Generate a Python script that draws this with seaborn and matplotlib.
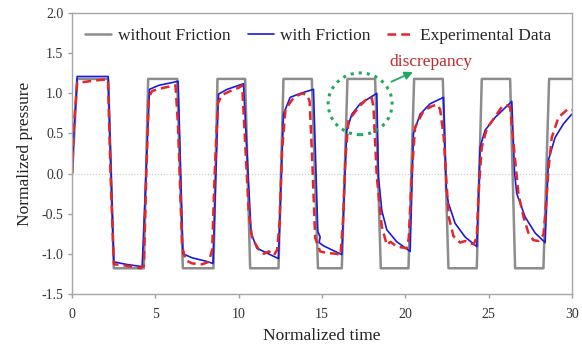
import seaborn as sns
import pandas as pd
import matplotlib.pyplot as plt
from matplotlib.patches import Ellipse

# Data
t_nofric = [0, 0.3, 2.16, 2.5, 4.3, 4.56, 6.3, 6.64, 8.48, 8.72, 10.38, 10.68, 12.38, 12.68,
            14.38, 14.75, 16.18, 16.52, 18.18, 18.52, 20.18, 20.52, 22.24, 22.58, 24.28, 24.58,
            26.28, 26.58, 28.28, 28.62, 30]
p_nofric = [0, 1.18, 1.18, -1.18, -1.18, 1.18, 1.18, -1.18, -1.18, 1.18, 1.18, -1.18, -1.18, 1.18,
            1.18, -1.18, -1.18, 1.18, 1.18, -1.18, -1.18, 1.18, 1.18, -1.18, -1.18, 1.18,
            1.18, -1.18, -1.18, 1.18, 1.18]

t_fric = [0, 0.1, 0.25, 0.3, 2.16, 2.5, 3.2, 4.2, 4.64, 5.2, 6.36, 6.65, 7.2, 8.0, 8.45,
          8.78, 9.3, 10.28, 10.74, 11.08, 11.68, 12.38, 12.68, 13.08, 13.7, 14.48, 14.74, 14.88,
          14.82, 15.08, 16.18, 16.48, 16.78, 17.28, 18.28, 18.38, 18.58, 18.88, 19.48, 20.28,
          20.48, 20.88, 21.48, 22.28, 22.45, 22.58, 22.98, 23.58, 24.28, 24.48, 24.78, 25.38,
          26.38, 26.55, 26.68, 27.18, 27.78, 28.38, 28.58, 28.98, 29.48, 29.98]
p_fric = [0, 0.5, 1.0, 1.21, 1.21, -1.10, -1.13, -1.16, 1.05, 1.1, 1.15, -1.0, -1.05, -1.09, -1.12,
          0.99, 1.05, 1.12, -0.74, -0.93, -0.99, -1.06, 0.74, 0.95, 1.0, 1.05, -0.72, -0.79,
          -0.86, -0.9, -1.01, 0.54, 0.74, 0.87, 1.0, -0.04, -0.46, -0.70, -0.85, -0.97,
          0.5, 0.74, 0.87, 0.95, -0.2, -0.37, -0.62, -0.79, -0.91, 0.33, 0.54, 0.70,
          0.90, 0.0, -0.25, -0.54, -0.74, -0.86, 0.17, 0.45, 0.62, 0.74]

t_exp = [0, 0.1, 0.3, 1.0, 1.8, 2.15, 2.3, 2.5, 3.0, 3.6, 4.1, 4.3, 4.45, 4.6, 4.8, 5.5, 6.2,
         6.35, 6.6, 6.8, 7.2, 7.8, 8.2, 8.4, 8.55, 8.75, 9.0, 9.5, 10.0, 10.2, 10.35, 10.6,
         10.8, 11.2, 11.5, 11.8, 12.1, 12.3, 12.45, 12.6, 12.8, 13.3, 13.8, 14.1, 14.25, 14.4,
         14.58, 14.88, 15.28, 15.88, 16.1, 16.25, 16.4, 16.58, 17.2, 17.78, 17.98, 18.08, 18.28,
         18.58, 18.88, 19.1, 19.48, 20.08, 20.2, 20.38, 20.58, 21.08, 21.58, 21.9, 22.08, 22.3,
         22.48, 22.6, 22.88, 23.28, 23.58, 23.88, 24.1, 24.28, 24.38, 24.58, 24.88, 25.48,
         25.78, 26.08, 26.28, 26.58, 26.78, 27.08, 27.38, 27.68, 27.98, 28.28, 28.4, 28.58,
         28.78, 29.18, 29.78, 29.98]
p_exp = [0, 0.6, 1.13, 1.15, 1.17, 1.17, 0.0, -1.13, -1.14, -1.16, -1.18, -1.15, 0.0, 0.95, 1.03,
         1.07, 1.1, 0.6, -0.9, -1.08, -1.12, -1.13, -1.1, -0.95, 0.0, 0.88, 0.98, 1.03, 1.07,
         1.1, 0.5, -0.5, -0.8, -0.95, -1.0, -0.97, -1.02, -0.95, -0.6, 0.3, 0.8, 0.95, 1.0,
         0.98, 0.9, 0.2, -0.8, -0.97, -0.99, -1.0, -1.02, -0.6, 0.2, 0.66, 0.83, 0.95, 0.94,
         0.83, -0.04, -0.66, -0.89, -0.85, -0.91, -0.93, -0.8, 0.0, 0.58, 0.78, 0.84, 0.86,
         0.80, 0.45, -0.17, -0.54, -0.78, -0.86, -0.84, -0.87, -0.88, -0.79, -0.25, 0.33, 0.56,
         0.74, 0.83, 0.85, 0.83, 0.17, -0.25, -0.54, -0.74, -0.83, -0.84, -0.76, -0.5, 0.05,
         0.45, 0.70, 0.81, 0.79]

df_nofric = pd.DataFrame({'t': t_nofric, 'p': p_nofric})
df_fric = pd.DataFrame({'t': t_fric, 'p': p_fric})
df_exp = pd.DataFrame({'t': t_exp, 'p': p_exp})

sns.set_style('ticks')
plt.rcParams['font.family'] = ['Liberation Serif', 'DejaVu Serif']

grey = '#8c8c8c'
green = '#1fa860'

fig = plt.figure(figsize=(5.82, 3.45), dpi=100)
ax = fig.add_subplot(111)
fig.subplots_adjust(left=0.124, right=0.983, top=0.962, bottom=0.148)

ax.axhline(0, color='#c8c8c8', lw=0.8, ls=':', zorder=1)
sns.lineplot(data=df_nofric, x='t', y='p', sort=False, estimator=None, color=grey, lw=1.8,
             label='without Friction', ax=ax)
sns.lineplot(data=df_fric, x='t', y='p', sort=False, estimator=None, color='#1a1adb', lw=1.2,
             label='with Friction', ax=ax)
sns.lineplot(data=df_exp, x='t', y='p', sort=False, estimator=None, color='#e3262b', lw=1.8,
             label='Experimental Data', ax=ax)
ax.lines[-1].set_dashes([3.5, 2])

# discrepancy marker
ax.add_patch(Ellipse((17.28, 0.87), width=3.84, height=0.77, fill=False, ls=':', lw=2.2,
                     color=green, zorder=5))
ax.annotate('', xy=(20.6, 1.28), xytext=(19.0, 1.13),
            arrowprops=dict(arrowstyle='-|>', color=green, lw=1.3, mutation_scale=12))
ax.text(21.5, 1.39, 'discrepancy', color='#c0282d', ha='center', va='center', fontsize=12.5)

ax.set_xlim(0, 30)
ax.set_ylim(-1.5, 2.0)
ax.set_xticks([0, 5, 10, 15, 20, 25, 30])
ax.set_yticks([-1.5, -1.0, -0.5, 0.0, 0.5, 1.0, 1.5, 2.0])
ax.set_yticklabels(['-1.5', '-1.0', '-0.5', '0.0', '0.5', '1.0', '1.5', '2.0'])
ax.set_xlabel('Normalized time', fontsize=12.5, color='#222222', labelpad=5)
ax.set_ylabel('Normalized pressure', fontsize=12.5, color='#222222', labelpad=6)
ax.tick_params(direction='out', length=3, width=1, colors='#a0a0a0', labelcolor='#333333',
               labelsize=10)
ax.tick_params(axis='x', pad=7)
for s in ax.spines.values():
    s.set_color('#a6a6a6')
    s.set_linewidth(1)

ax.legend(ncol=3, frameon=False, loc='center', bbox_to_anchor=(0.492, 0.92), fontsize=12.5,
          handlelength=1.5, columnspacing=1.0, handletextpad=0.35)

plt.savefig('out.png', dpi=100)
